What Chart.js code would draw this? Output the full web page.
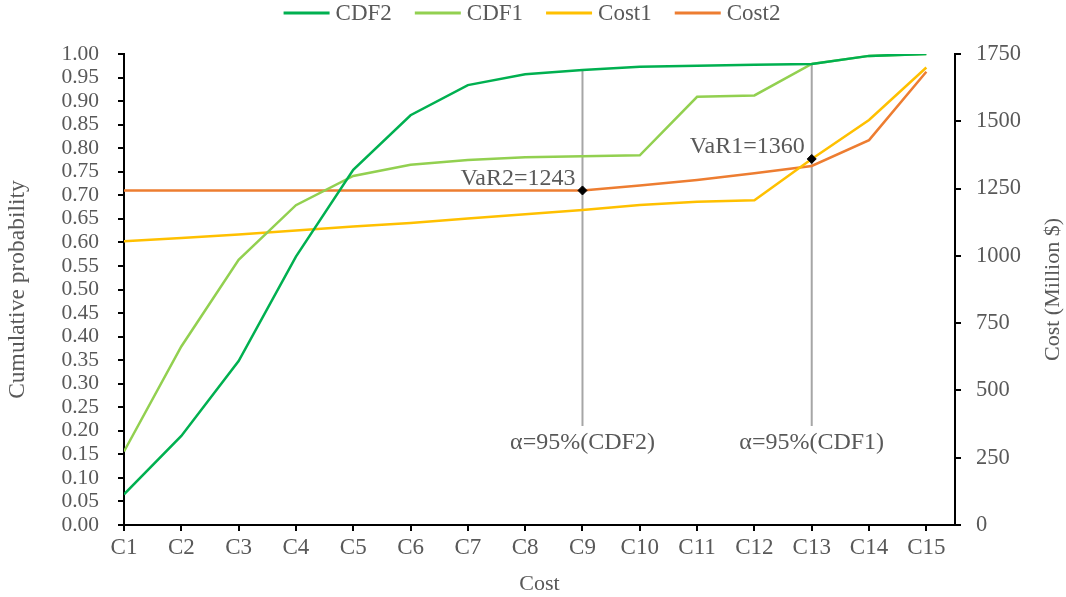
<!DOCTYPE html>
<html>
<head>
<meta charset="utf-8">
<script src="https://cdn.jsdelivr.net/npm/chart.js@4.4.1/dist/chart.umd.min.js"></script>
<style>
  html, body { margin: 0; padding: 0; background: #ffffff; }
  #wrap { position: relative; width: 1066px; height: 597px; }
</style>
</head>
<body>
<div id="wrap"><canvas id="c" width="1066" height="597"></canvas></div>
<script>
// ---- data ----
const categories = ['C1','C2','C3','C4','C5','C6','C7','C8','C9','C10','C11','C12','C13','C14','C15'];
const cdf2  = [0.065, 0.189, 0.348, 0.570, 0.754, 0.870, 0.934, 0.957, 0.966, 0.973, 0.975, 0.977, 0.979, 0.996, 1.000];
const cdf1  = [0.156, 0.379, 0.563, 0.679, 0.741, 0.765, 0.775, 0.781, 0.783, 0.785, 0.909, 0.912, 0.979, 0.996, 1.000];
const cost1 = [1054, 1066, 1079, 1094, 1109, 1122, 1139, 1155, 1170, 1189, 1201, 1207, 1360, 1505, 1700];
const cost2 = [1243, 1243, 1243, 1243, 1243, 1243, 1243, 1243, 1243, 1261, 1282, 1307, 1334, 1430, 1684];
const leftTicks  = [0,0.05,0.10,0.15,0.20,0.25,0.30,0.35,0.40,0.45,0.50,0.55,0.60,0.65,0.70,0.75,0.80,0.85,0.90,0.95,1.00];
const rightTicks = [0,250,500,750,1000,1250,1500,1750];
// VaR markers
const varIndex  = [8, 12];
const varValue  = [1243, 1360];
const varLabels = ['VaR2=1243', 'VaR1=1360'];
const alphaLabels = ['α=95%(CDF2)', 'α=95%(CDF1)'];
const alphaCdf  = [cdf2, cdf1];
const alphaBottom = 0.21;

const TEXT = '#595959';
const FONT = '"Liberation Serif", "Times New Roman", serif';

const pts = arr => arr.map((v, i) => ({ x: i, y: v }));

const annot = {
  id: 'annot',
  beforeDatasetsDraw(chart) {
    const ctx = chart.ctx;
    const xs = chart.scales.x, ys = chart.scales.y;
    ctx.save();
    for (let k = 0; k < varIndex.length; k++) {
      const i = varIndex[k];
      const px = xs.getPixelForValue(i);
      const top = ys.getPixelForValue(alphaCdf[k][i]);
      const bot = ys.getPixelForValue(alphaBottom);
      ctx.strokeStyle = '#A6A6A6';
      ctx.lineWidth = 2;
      ctx.beginPath();
      ctx.moveTo(px, top);
      ctx.lineTo(px, bot);
      ctx.stroke();
    }
    ctx.restore();
  },
  afterDatasetsDraw(chart) {
    const ctx = chart.ctx;
    const xs = chart.scales.x, ys = chart.scales.y, y1 = chart.scales.y1;
    ctx.save();
    for (let k = 0; k < varIndex.length; k++) {
      const i = varIndex[k];
      const px = xs.getPixelForValue(i);
      const bot = ys.getPixelForValue(alphaBottom);
      ctx.fillStyle = TEXT;
      ctx.font = '24px ' + FONT;
      ctx.textAlign = 'center';
      ctx.textBaseline = 'middle';
      ctx.fillText(alphaLabels[k], px, bot + 17);
      const my = y1.getPixelForValue(varValue[k]);
      ctx.textAlign = 'right';
      ctx.fillText(varLabels[k], px - 7, my - 12);
    }
    ctx.restore();
  },
  afterDraw(chart) {
    const ctx = chart.ctx;
    ctx.save();
    const ca = chart.chartArea;
    ctx.translate(1053, (ca.top + ca.bottom) / 2);
    ctx.rotate(-Math.PI / 2);
    ctx.fillStyle = TEXT;
    ctx.font = '22px ' + FONT;
    ctx.textAlign = 'center';
    ctx.textBaseline = 'middle';
    ctx.fillText('Cost (Million $)', 0, 0);
    ctx.restore();

    // legend
    ctx.save();
    ctx.font = '23px ' + FONT;
    ctx.textBaseline = 'middle';
    ctx.textAlign = 'left';
    const items = chart.data.datasets.filter(d => d.label !== 'VaR');
    const lineW = 46, gap = 6, between = 23;
    let total = 0;
    items.forEach((d, j) => { total += lineW + gap + ctx.measureText(d.label).width + (j ? between : 0); });
    let x = 532 - total / 2;
    const y = 13;
    items.forEach(d => {
      ctx.strokeStyle = d.borderColor;
      ctx.lineWidth = 3;
      ctx.beginPath();
      ctx.moveTo(x, y);
      ctx.lineTo(x + lineW, y);
      ctx.stroke();
      x += lineW + gap;
      ctx.fillStyle = TEXT;
      ctx.fillText(d.label, x, y + 1);
      x += ctx.measureText(d.label).width + between;
    });
    ctx.restore();
  }
};

new Chart(document.getElementById('c'), {
  type: 'line',
  data: {
    datasets: [
      { label: 'CDF2', data: pts(cdf2), yAxisID: 'y', borderColor: '#00B050', backgroundColor: '#00B050', borderWidth: 2.5, pointRadius: 0, tension: 0 },
      { label: 'CDF1', data: pts(cdf1), yAxisID: 'y', borderColor: '#92D050', backgroundColor: '#92D050', borderWidth: 2.5, pointRadius: 0, tension: 0 },
      { label: 'Cost1', data: pts(cost1), yAxisID: 'y1', borderColor: '#FFC000', backgroundColor: '#FFC000', borderWidth: 2.5, pointRadius: 0, tension: 0 },
      { label: 'Cost2', data: pts(cost2), yAxisID: 'y1', borderColor: '#ED7D31', backgroundColor: '#ED7D31', borderWidth: 2.5, pointRadius: 0, tension: 0 },
      { label: 'VaR', order: -1, data: varIndex.map((i, k) => ({ x: i, y: varValue[k] })), yAxisID: 'y1', showLine: false,
        pointStyle: 'rectRot', pointRadius: 4.5, pointBorderWidth: 1, pointBackgroundColor: '#000000', pointBorderColor: '#000000', borderColor: '#000', backgroundColor: '#000' }
    ]
  },
  options: {
    responsive: false,
    animation: false,
    events: [],
    layout: { padding: { left: 0, right: 0, top: 54, bottom: 0 } },
    plugins: {
      tooltip: { enabled: false },
      legend: { display: false }
    },
    scales: {
      x: {
        type: 'linear',
        min: 0,
        max: 14.5,
        afterBuildTicks: s => { s.ticks = categories.map((c, i) => ({ value: i })); },
        afterFit: s => { s.height = 72; },
        ticks: {
          callback: (v) => categories[v] !== undefined ? categories[v] : '',
          color: TEXT,
          font: { family: FONT, size: 23 },
          padding: 3,
          maxRotation: 0,
          autoSkip: false
        },
        grid: { drawOnChartArea: false, drawTicks: true, tickLength: 6, color: '#000', lineWidth: 2 },
        border: { display: true, color: '#000', width: 2 },
        title: { display: true, text: 'Cost', color: TEXT, font: { family: FONT, size: 22 }, padding: { top: 0, bottom: 0 } }
      },
      y: {
        position: 'left',
        min: 0,
        max: 1,
        afterBuildTicks: s => { s.ticks = leftTicks.map(v => ({ value: v })); },
        afterFit: s => { s.width = 124; },
        ticks: {
          callback: v => Number(v).toFixed(2),
          color: TEXT,
          font: { family: FONT, size: 21.5 },
          padding: 19,
          autoSkip: false
        },
        grid: { drawOnChartArea: false, drawTicks: true, tickLength: 6, color: '#000', lineWidth: 2 },
        border: { display: true, color: '#000', width: 2 },
        title: { display: true, text: 'Cumulative probability', color: TEXT, font: { family: FONT, size: 23.5 }, padding: { top: 4, bottom: 0 } }
      },
      y1: {
        position: 'right',
        min: 0,
        max: 1750,
        afterBuildTicks: s => { s.ticks = rightTicks.map(v => ({ value: v })); },
        afterFit: s => { s.width = 111; },
        ticks: {
          callback: v => String(v),
          color: TEXT,
          font: { family: FONT, size: 22.5 },
          padding: 15,
          autoSkip: false
        },
        grid: { drawOnChartArea: false, drawTicks: true, tickLength: 6, color: '#000', lineWidth: 2 },
        border: { display: true, color: '#000', width: 2 },
        title: { display: false }
      }
    }
  },
  plugins: [annot]
});
</script>
</body>
</html>
